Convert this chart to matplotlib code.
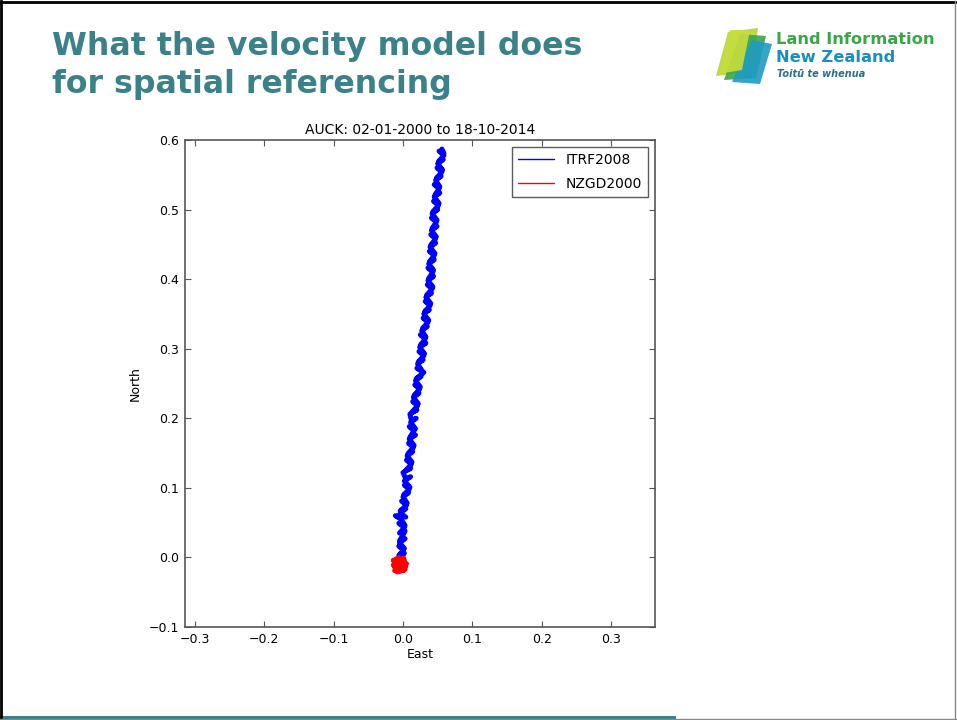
import matplotlib
matplotlib.use("Agg")
import matplotlib.pyplot as plt
from matplotlib.patches import Polygon, Rectangle
from matplotlib.lines import Line2D

# ---------------- data ----------------
title_lines = ["What the velocity model does", "for spatial referencing"]
chart_title = "AUCK: 02-01-2000 to 18-10-2014"
series_names = ["ITRF2008", "NZGD2000"]
x_ticks = [-0.3, -0.2, -0.1, 0.0, 0.1, 0.2, 0.3]
y_ticks = [-0.1, 0.0, 0.1, 0.2, 0.3, 0.4, 0.5, 0.6]

itrf_north = [0.000, 0.006, 0.003, 0.011, 0.016, 0.013, 0.021, 0.027, 0.024, 0.032,
              0.038, 0.035, 0.043, 0.049, 0.046, 0.055, 0.060, 0.058, 0.064, 0.070,
              0.067, 0.075, 0.081, 0.078, 0.087, 0.093, 0.090, 0.098, 0.104, 0.101,
              0.110, 0.116, 0.113, 0.122, 0.128, 0.125, 0.134, 0.140, 0.137, 0.146,
              0.152, 0.149, 0.158, 0.164, 0.161, 0.170, 0.176, 0.173, 0.182, 0.188,
              0.185, 0.194, 0.200, 0.197, 0.206, 0.212, 0.209, 0.218, 0.224, 0.221,
              0.230, 0.236, 0.233, 0.242, 0.248, 0.245, 0.254, 0.260, 0.257, 0.266,
              0.272, 0.269, 0.278, 0.284, 0.281, 0.290, 0.296, 0.293, 0.302, 0.308,
              0.305, 0.314, 0.320, 0.317, 0.326, 0.332, 0.329, 0.338, 0.344, 0.341,
              0.350, 0.356, 0.353, 0.362, 0.368, 0.365, 0.374, 0.380, 0.377, 0.386,
              0.392, 0.389, 0.398, 0.404, 0.401, 0.410, 0.416, 0.413, 0.422, 0.428,
              0.425, 0.434, 0.440, 0.437, 0.446, 0.452, 0.449, 0.458, 0.464, 0.461,
              0.470, 0.476, 0.473, 0.482, 0.488, 0.485, 0.494, 0.500, 0.497, 0.506,
              0.512, 0.509, 0.518, 0.524, 0.521, 0.530, 0.536, 0.533, 0.542, 0.548,
              0.545, 0.554, 0.560, 0.557, 0.566, 0.572, 0.569, 0.578, 0.584, 0.581,
              0.587]
itrf_east = [-0.004, 0.002, -0.006, 0.001, -0.006, 0.002, -0.005, 0.003, -0.005, 0.000,
             0.003, -0.005, 0.002, -0.006, 0.003, -0.003, -0.011, 0.004, -0.004, 0.004,
             -0.004, 0.005, -0.002, 0.006, 0.000, 0.008, 0.001, 0.009, 0.002, 0.010,
             0.002, 0.011, 0.004, 0.000, 0.011, 0.004, 0.012, 0.005, 0.013, 0.006,
             0.014, 0.007, 0.015, 0.008, 0.016, 0.009, 0.018, 0.010, 0.016, 0.009,
             0.018, 0.011, 0.019, 0.012, 0.010, 0.020, 0.013, 0.021, 0.014, 0.022,
             0.015, 0.023, 0.016, 0.024, 0.017, 0.025, 0.018, 0.026, 0.019, 0.030,
             0.020, 0.027, 0.021, 0.029, 0.022, 0.030, 0.023, 0.031, 0.024, 0.033,
             0.025, 0.032, 0.025, 0.033, 0.027, 0.035, 0.028, 0.036, 0.029, 0.037,
             0.030, 0.038, 0.031, 0.039, 0.032, 0.040, 0.033, 0.041, 0.034, 0.042,
             0.035, 0.043, 0.036, 0.044, 0.037, 0.043, 0.036, 0.044, 0.037, 0.045,
             0.038, 0.045, 0.038, 0.046, 0.039, 0.047, 0.040, 0.047, 0.040, 0.048,
             0.041, 0.049, 0.042, 0.048, 0.041, 0.049, 0.042, 0.050, 0.043, 0.051,
             0.044, 0.052, 0.045, 0.053, 0.046, 0.052, 0.045, 0.053, 0.047, 0.055,
             0.048, 0.056, 0.049, 0.057, 0.050, 0.058, 0.051, 0.059, 0.052, 0.059,
             0.056]

nzgd_east = [-0.005, 0.002, -0.012, -0.002, -0.010, 0.004, -0.013, -0.004, 0.001, -0.011,
             0.005, -0.008, -0.014, -0.001, -0.006, 0.003, -0.012, -0.003, -0.014, 0.002,
             -0.008, -0.004, -0.011, 0.001, -0.005]
nzgd_north = [-0.010, -0.004, -0.014, -0.019, -0.002, -0.013, -0.006, -0.020, -0.001, -0.017,
              -0.009, -0.004, -0.011, -0.016, 0.000, -0.017, -0.019, -0.007, -0.004, -0.010,
              -0.021, -0.012, -0.008, -0.019, -0.003]

teal = "#3b8189"

# ---------------- figure ----------------
fig = plt.figure(figsize=(9.57, 7.2), dpi=100)
fig.patch.set_facecolor("white")

# slide frame
fig.add_artist(Line2D([0.001, 0.001], [0.0, 0.999], transform=fig.transFigure,
                      color="black", lw=2.0))
fig.add_artist(Line2D([0.0, 1.0], [0.997, 0.997], transform=fig.transFigure,
                      color="black", lw=2.0))
fig.add_artist(Line2D([0.998, 0.998], [0.0, 0.998], transform=fig.transFigure,
                      color="#888888", lw=1.0))
fig.add_artist(Line2D([0.0, 1.0], [0.001, 0.001], transform=fig.transFigure,
                      color="#888888", lw=1.0))
fig.add_artist(Rectangle((0.0, 0.0), 0.706, 0.006, transform=fig.transFigure,
                         facecolor=teal, edgecolor="none"))

# slide title
fig.text(52 / 957, 1 - 47 / 720, title_lines[0], fontsize=22.8, fontweight="bold",
         color=teal, va="center", ha="left", family="DejaVu Sans")
fig.text(52 / 957, 1 - 84 / 720, title_lines[1], fontsize=22.8, fontweight="bold",
         color=teal, va="center", ha="left", family="DejaVu Sans")

# logo icon (simple shapes)
icon = [
    ([(716, 76), (728, 32), (758, 28), (752, 72)], "#b5d335"),
    ([(724, 80), (740, 34), (766, 36), (756, 78)], "#3aa64a"),
    ([(732, 82), (752, 40), (772, 44), (760, 84)], "#1e9bc4"),
    ([(718, 74), (730, 30), (750, 30), (742, 70)], "#c7dd3e"),
]
for pts, col in icon:
    fig.add_artist(Polygon([(x / 957, 1 - y / 720) for x, y in pts], closed=True,
                           transform=fig.transFigure, facecolor=col, edgecolor="none",
                           alpha=0.9))
fig.text(776 / 957, 1 - 40 / 720, "Land Information", fontsize=11.7, fontweight="bold",
         color="#3aa64a", va="center", ha="left")
fig.text(776 / 957, 1 - 58 / 720, "New Zealand", fontsize=11.7, fontweight="bold",
         color="#1a8ec0", va="center", ha="left")
fig.text(777 / 957, 1 - 74 / 720, "Toitū te whenua", fontsize=7, style="italic",
         fontweight="bold", color="#2a6f8a", va="center", ha="left")

# ---------------- axes ----------------
ax = fig.add_axes([185 / 957, 93 / 720, 470 / 957, 487 / 720])
ax.plot(itrf_east, itrf_north, color="#0000ff", lw=3.6, label=series_names[0],
        solid_joinstyle="round", solid_capstyle="round")
ax.plot(nzgd_east, nzgd_north, color="#ff0000", lw=3.6, label=series_names[1],
        solid_joinstyle="round", solid_capstyle="round")

ax.set_xlim(-0.314, 0.363)
ax.set_ylim(-0.1, 0.6)
ax.set_xticks(x_ticks)
ax.set_yticks(y_ticks)
ax.set_xticklabels([f"{v:.1f}".replace("-", "\u2212") for v in x_ticks])
ax.set_yticklabels([f"{v:.1f}".replace("-", "\u2212") for v in y_ticks])
ax.tick_params(direction="in", top=True, right=True, length=4, width=0.8,
               labelsize=9, color="#555555", pad=4)
for s in ax.spines.values():
    s.set_color("#555555")
    s.set_linewidth(1.2)
ax.set_title(chart_title, fontsize=10, pad=4)
ax.set_xlabel("East", fontsize=9, labelpad=2)
ax.set_ylabel("North", fontsize=9, labelpad=5)

leg = ax.legend(loc="upper right", fontsize=10, frameon=True, fancybox=False,
                handlelength=2.6, borderpad=0.45, labelspacing=0.7,
                borderaxespad=0.5)
leg.get_frame().set_edgecolor("#333333")
leg.get_frame().set_linewidth(1.0)
for ln in leg.get_lines():
    ln.set_linewidth(1.0)

fig.savefig("out.png", dpi=100, facecolor="white")
